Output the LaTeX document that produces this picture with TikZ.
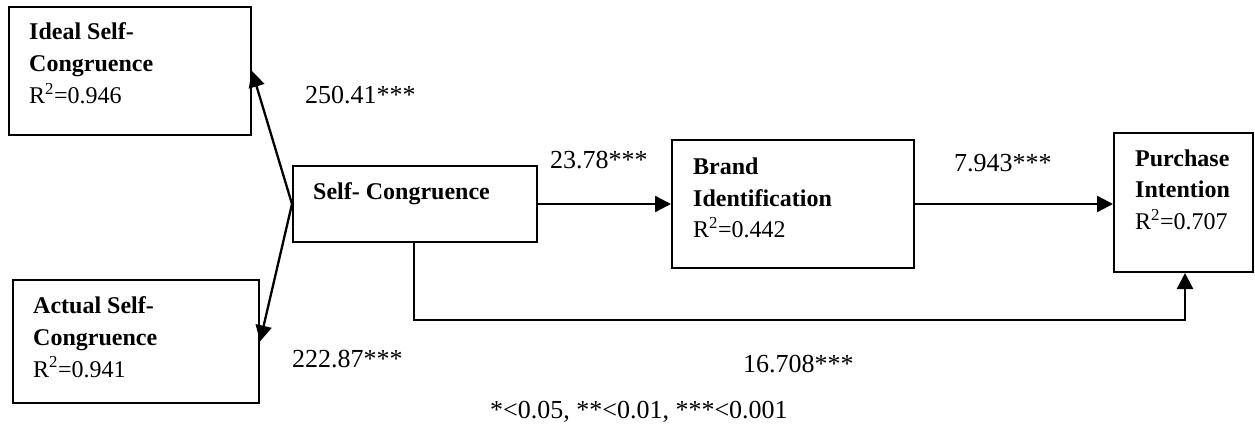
\documentclass[tikz,border=0pt]{standalone}
\usepackage{fontspec}
\setmainfont{Liberation Serif}
\usetikzlibrary{arrows.meta}
\begin{document}
\begin{tikzpicture}[x=1pt,y=-1pt,
  box/.style={draw=black,line width=2pt,rectangle,inner sep=0pt},
  btxt/.style={anchor=base west,inner sep=0pt,font=\fontsize{24}{32}\selectfont},
  lbl/.style={anchor=base west,inner sep=0pt,font=\fontsize{26}{32}\selectfont},
  arr/.style={line width=2.3pt,-{Triangle[length=16pt,width=16pt]}}]
\useasboundingbox (0,0) rectangle (1255,430);
% boxes
\node[box,minimum width=242pt,minimum height=128pt] (IS) at (130,71) {};
\node[box,minimum width=246pt,minimum height=123pt] (AS) at (136,341.5) {};
\node[box,minimum width=244pt,minimum height=76pt] (SC) at (415,204) {};
\node[box,minimum width=242pt,minimum height=128pt] (BI) at (793,204) {};
\node[box,minimum width=139pt,minimum height=139pt] (PI) at (1183.5,202.5) {};
% box texts
\node[btxt] (is1) at (29,40) {\textbf{Ideal Self-}};
\node[btxt] (is2) at (29,72) {\textbf{Congruence}};
\node[btxt] (is3) at (29,104) {R\textsuperscript{2}=0.946};
\node[btxt] (as1) at (33,313) {\textbf{Actual Self-}};
\node[btxt] (as2) at (33,345) {\textbf{Congruence}};
\node[btxt] (as3) at (33,377) {R\textsuperscript{2}=0.941};
\node[btxt] (sc1) at (313,200) {\textbf{Self- Congruence}};
\node[btxt] (bi1) at (693,175) {\textbf{Brand}};
\node[btxt] (bi2) at (693,207) {\textbf{Identification}};
\node[btxt] (bi3) at (693,238) {R\textsuperscript{2}=0.442};
\node[btxt] (pi1) at (1135,167) {\textbf{Purchase}};
\node[btxt] (pi2) at (1135,198) {\textbf{Intention}};
\node[btxt] (pi3) at (1135,230) {R\textsuperscript{2}=0.707};
% connectors
\draw[arr] (SC.west) -- (IS.east);
\draw[arr] (SC.west) -- (AS.east);
\draw[arr] (SC.east) -- (BI.west);
\draw[arr] (BI.east) -- (BI.east -| PI.west);
\coordinate (b1) at (414,320);
\coordinate (b2) at (1185,320);
\draw[arr] (SC.south -| b1) -- (b1) -- (b2) -- (b2 |- PI.south);
% labels
\node[lbl] (l1) at (305,104) {250.41***};
\node[lbl] (l2) at (292,367) {222.87***};
\node[lbl] (l3) at (550,169) {23.78***};
\node[lbl] (l4) at (954,172) {7.943***};
\node[lbl] (l5) at (743,372) {16.708***};
\node[lbl] (l6) at (490,418) {*<0.05, **<0.01, ***<0.001};
\end{tikzpicture}
\end{document}
